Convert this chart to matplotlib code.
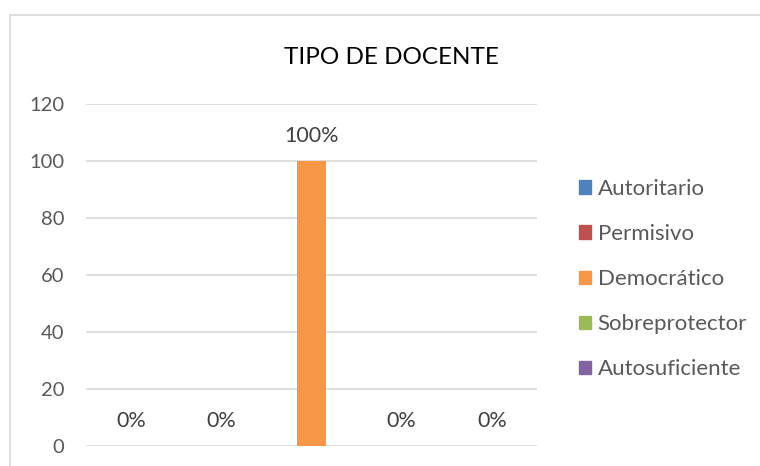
import matplotlib
matplotlib.use("Agg")
import matplotlib.pyplot as plt
from matplotlib.patches import Rectangle

title = "TIPO DE DOCENTE"
categories = ["Autoritario", "Permisivo", "Democrático", "Sobreprotector", "Autosuficiente"]
values = [0, 0, 100, 0, 0]
value_labels = ["0%", "0%", "100%", "0%", "0%"]
colors = ["#4f81bd", "#c0504d", "#f79646", "#9bbb59", "#8064a2"]
yticks = [0, 20, 40, 60, 80, 100, 120]

plt.rcParams['font.family'] = ['Lato', 'DejaVu Sans']
W, H = 760, 466
fig = plt.figure(figsize=(W / 100, H / 100), dpi=100)

# chart border
fig.patches.append(Rectangle((10 / W, -0.2), 2, (H - 15) / H + 0.2, transform=fig.transFigure,
                             fill=False, edgecolor="#d9d9d9", linewidth=1.2))

ax = fig.add_axes([86 / W, 20 / H, (537 - 86) / W, (362 - 20) / H])
x = list(range(len(categories)))
bars = ax.bar(x, values, width=0.32, color=colors, label=categories, zorder=3)
ax.set_xlim(-0.5, len(categories) - 0.5)
ax.set_ylim(0, 120)
ax.set_yticks(yticks)
ax.set_yticklabels([str(t) for t in yticks])
ax.set_xticks([])
ax.tick_params(axis='y', length=0, pad=15.5, labelsize=14.5, labelcolor="#595959")
for s in ax.spines.values():
    s.set_visible(False)
ax.grid(axis='y', color="#d9d9d9", linewidth=1.2, zorder=0)

for xi, v, lab in zip(x, values, value_labels):
    ax.annotate(lab, (xi, v), xytext=(0, 18), textcoords="offset points",
                ha="center", va="center", fontsize=15.5, color="#404040")

fig.text(391 / W, 1 - 57 / H, title, ha="center", va="center", fontsize=17.5, color="#000000")

handles = [Rectangle((0, 0), 1, 1, color=c) for c in colors]
leg = fig.legend(handles, categories, loc="upper left", bbox_to_anchor=(570 / W, 1 - 170 / H),
                 frameon=False, fontsize=16, labelcolor="#595959",
                 handlelength=0.55, handleheight=0.55, handletextpad=0.3, labelspacing=1.13,
                 borderaxespad=0)

fig.savefig("out.png", dpi=100)
